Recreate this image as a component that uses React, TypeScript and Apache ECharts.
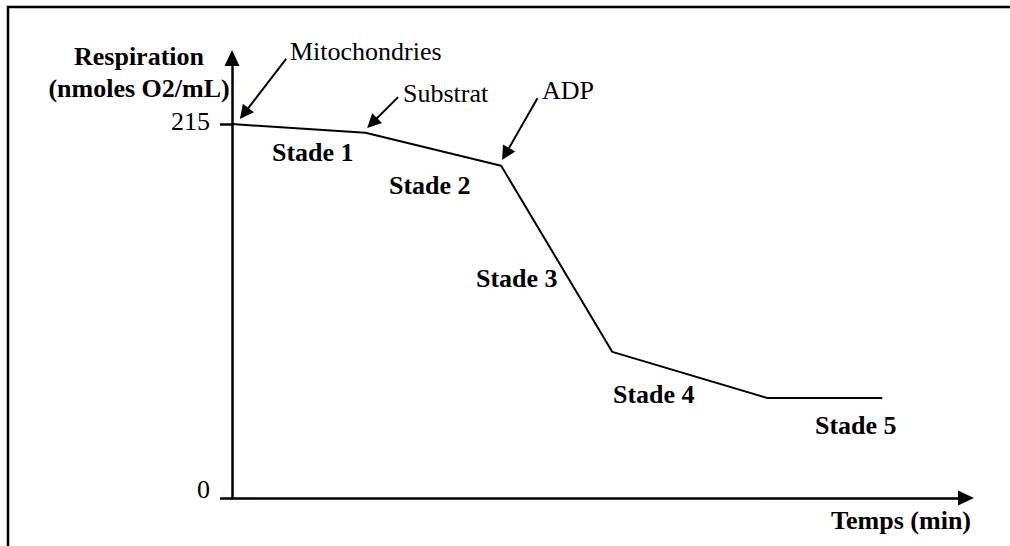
import React, { useEffect, useRef } from "react";
import * as echarts from "echarts";

// ---- data ----
const timeValues = [0, 18, 36.3, 51.3, 72.2, 87.7];
const respirationValues = [215, 210, 191, 84, 57.5, 57.5];
const yTickValues = [0, 215];
const xMax = 99;
const yMax = 253;

const arrowNotes = [
  { name: "Mitochondries", from: [7.3, 252.5], to: [1.64, 221.1] },
  { name: "Substrat", from: [22.4, 230.5], to: [18.9, 215.6] },
  { name: "ADP", from: [41.2, 229.9], to: [36.9, 197.8] },
];
const stageNames = ["Stade 1", "Stade 2", "Stade 3", "Stade 4", "Stade 5"];
const yTitleLines = ["Respiration", "(nmoles O2/mL)"];
const xTitle = "Temps (min)";

const FONT = '"Liberation Serif", "Times New Roman", serif';

export default function App() {
  const ref = useRef<HTMLDivElement>(null);

  useEffect(() => {
    if (!ref.current) return;
    const chart = echarts.init(ref.current, undefined, { renderer: "svg" });

    const txt = (text: string, x: number, y: number, bold: boolean, align = "left") => ({
      type: "text",
      x,
      y,
      silent: true,
      style: {
        text,
        fill: "#000",
        fontFamily: FONT,
        fontSize: 26,
        fontWeight: bold ? "bold" : "normal",
        align,
        verticalAlign: "middle",
      },
    });

    const notePos = [
      [290, 51],
      [403, 93],
      [542, 90],
    ];
    const stagePos = [
      [272, 152],
      [389, 185],
      [476, 278],
      [613, 394],
      [815, 425],
    ];

    const option: any = {
      animation: false,
      backgroundColor: "#fff",
      grid: { left: 232, right: 44, top: 58, bottom: 48, containLabel: false },
      xAxis: {
        type: "value",
        min: 0,
        max: xMax,
        splitLine: { show: false },
        axisTick: { show: false },
        axisLabel: { show: false },
        axisLine: {
          show: true,
          symbol: ["none", "triangle"],
          symbolSize: [15, 16],
          lineStyle: { color: "#000", width: 2.5 },
        },
      },
      yAxis: {
        type: "value",
        min: 0,
        max: yMax,
        splitLine: { show: false },
        axisLine: {
          show: true,
          symbol: ["none", "triangle"],
          symbolSize: [15, 16],
          lineStyle: { color: "#000", width: 2.5 },
        },
        axisTick: {
          show: true,
          customValues: yTickValues,
          length: 12,
          lineStyle: { color: "#000", width: 2.5 },
        },
        axisLabel: {
          show: true,
          customValues: yTickValues,
          margin: 22,
          color: "#000",
          fontFamily: FONT,
          fontSize: 26,
          formatter: (v: number) => (v === 0 ? "{z|0}" : "{t|" + v + "}"),
          rich: {
            z: { fontFamily: FONT, fontSize: 26, color: "#000", padding: [0, 0, 18, 0] },
            t: { fontFamily: FONT, fontSize: 26, color: "#000", padding: [0, 0, 6, 0] },
          },
        },
      },
      series: [
        {
          type: "line",
          data: timeValues.map((t, i) => [t, respirationValues[i]]),
          showSymbol: false,
          symbol: "none",
          lineStyle: { color: "#000", width: 2 },
          silent: true,
          markLine: {
            silent: true,
            animation: false,
            symbol: ["none", "triangle"],
            symbolSize: 14,
            label: { show: false },
            lineStyle: { color: "#000", width: 2, type: "solid" },
            data: arrowNotes.map((a) => [{ coord: a.from }, { coord: a.to }]),
          },
        },
      ],
      graphic: [
        {
          type: "polyline",
          silent: true,
          shape: { points: [[8, 546], [8, 7], [1010, 7]] },
          style: { stroke: "#000", lineWidth: 2.5, fill: "none" },
        },
        txt(yTitleLines[0], 139, 56, true, "center"),
        txt(yTitleLines[1], 139, 88, true, "center"),
        txt(xTitle, 971, 520, true, "right"),
        ...arrowNotes.map((a, i) => txt(a.name, notePos[i][0], notePos[i][1], false)),
        ...stageNames.map((s, i) => txt(s, stagePos[i][0], stagePos[i][1], true)),
      ],
    };

    chart.setOption(option);
    return () => chart.dispose();
  }, []);

  return (
    <div
      ref={ref}
      style={{ position: "fixed", left: 0, top: 0, width: 1010, height: 546, background: "#fff" }}
    />
  );
}
